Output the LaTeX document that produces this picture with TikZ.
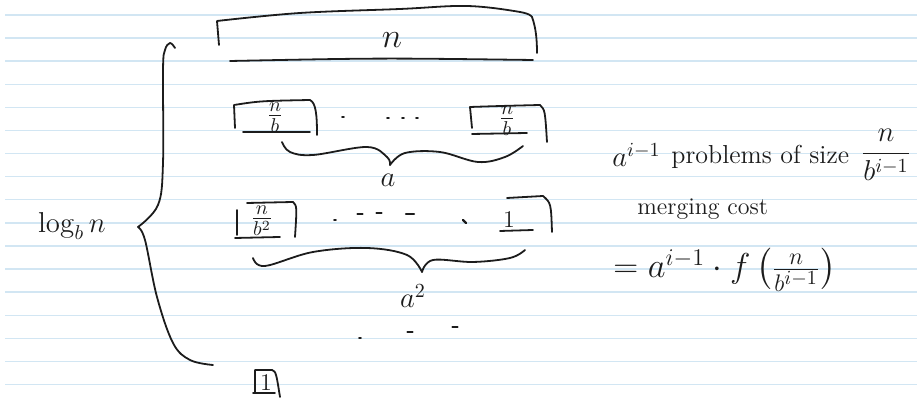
\documentclass[tikz,border=0pt]{standalone}
\usepackage{amsmath}
\usetikzlibrary{calc}
\definecolor{ruleblue}{RGB}{210,230,243}
\definecolor{penink}{RGB}{28,28,28}
\tikzset{
  ink/.style={draw=penink,line width=0.9pt,line cap=round,line join=round},
  paperline/.style={draw=ruleblue,line width=0.7pt},
  hand/.style={text=penink,inner sep=0pt},
  tick/.style={draw=penink,line width=1.1pt,line cap=round}
}

\begin{document}
\begin{tikzpicture}[x=0.5pt,y=-0.5pt]
  \useasboundingbox (0,0) rectangle (917,399);
  % ruled paper
  \foreach \k in {0,...,16}{
    \draw[paperline] (5,15+23.1*\k) -- (917,15+23.1*\k);
  }

  % level 0: the whole problem
  \draw[ink] (219,45) -- (217,21)
    plot[smooth,tension=0.6] coordinates {(217,21) (300,13) (400,9) (467,6) (520,12) (532,17)}
    .. controls (536,28) and (537,40) .. (537,53);
  \draw[ink] (230,61) .. controls (380,58) .. (533,60);
  \node[hand,font=\LARGE] (whole) at (392,40) {$n$};

  % level 1
  \draw[ink] (235,128) -- (234,105) .. controls (260,101) .. (310,100)
    .. controls (316,103) and (317,115) .. (317,135);
  \draw[ink] (243,132) -- (310,132);
  \node[hand,font=\Large] (subA) at (275,118) {$\frac{n}{b}$};
  \draw[ink] (472,128) -- (470,107) .. controls (500,106) .. (540,105)
    .. controls (545,110) .. (547,142);
  \draw[ink] (472,134) -- (527,133);
  \node[hand,font=\Large] (subB) at (507,121) {$\frac{n}{b}$};
  \foreach \x/\y in {343/117,388/118,403/118,417/118}{
    \draw[tick] (\x-0.8,\y) -- (\x+0.8,\y);
  }
  \draw[ink] plot[smooth,tension=0.6] coordinates
    {(282,142) (290,152) (313,155) (367,147) (387,157) (390,165)};
  \draw[ink] plot[smooth,tension=0.6] coordinates
    {(390,165) (405,153) (440,152) (478,162) (505,157) (523,146)};
  \node[hand,font=\Large] (cntA) at (388,180) {$a$};

  % level 2
  \draw[ink] (237,210) -- (237,235);
  \draw[ink] (247,203) -- (293,202) .. controls (297,206) .. (295,237);
  \draw[ink] (235,238) -- (280,237);
  \node[hand,font=\Large] (subC) at (262,221) {$\frac{n}{b^2}$};
  \draw[ink] (507,198) -- (543,196) .. controls (551,203) .. (552,232);
  \draw[ink] (500,231) -- (533,230);
  \node[hand,font=\large] (unitA) at (509,220) {$1$};
  \foreach \x/\y/\w in {335/220/0.8,360/214/2.5,379/213/2.5,410/214/4}{
    \draw[tick] (\x-\w,\y) -- (\x+\w,\y);
  }
  \draw[tick] (463,220) -- (466,223);
  \draw[ink] plot[smooth,tension=0.6] coordinates
    {(253,258) (265,266) (313,252) (367,248) (407,255) (422,272)};
  \draw[ink] plot[smooth,tension=0.6] coordinates
    {(422,272) (433,260) (473,262) (510,258) (525,250)};
  \node[hand,font=\Large] (cntB) at (413,296) {$a^2$};

  % further levels
  \foreach \x/\y/\w in {360/338/0.8,410/332/2.5,455/327/2.5}{
    \draw[tick] (\x-\w,\y) -- (\x+\w,\y);
  }
  \draw[ink] (255,393) -- (255,370) -- (272,370) .. controls (276,372) .. (280,397);
  \draw[ink] (253,393) -- (275,393);
  \node[hand,font=\large] (unitB) at (266,383) {$1$};

  % depth brace
  \draw[ink] plot[smooth,tension=0.6] coordinates
    {(175,48) (170,43) (165,50) (163,70) (163,163) (158,205) (138,227)};
  \draw[ink] plot[smooth,tension=0.6] coordinates
    {(138,227) (145,240) (157,297) (173,343) (190,360) (213,365)};
  \node[hand,font=\Large] (depth) at (72,226) {$\log_b n$};

  % notes on the right
  \node[hand,font=\Large,anchor=base west] (count) at (612,167) {$a^{i-1}$};
  \node[hand,font=\fontsize{13}{15}\selectfont,anchor=base west] (probs) at (671,164) {problems of size};
  \node[hand,font=\Large] (size) at (886,155) {$\dfrac{n}{b^{i-1}}$};
  \node[hand,font=\large,anchor=base west] (merge) at (637,215) {merging cost};
  \node[hand,font=\LARGE,anchor=west] (cost) at (613,270)
    {$= a^{i-1}\cdot f\left(\frac{n}{b^{i-1}}\right)$};
\end{tikzpicture}
\end{document}
